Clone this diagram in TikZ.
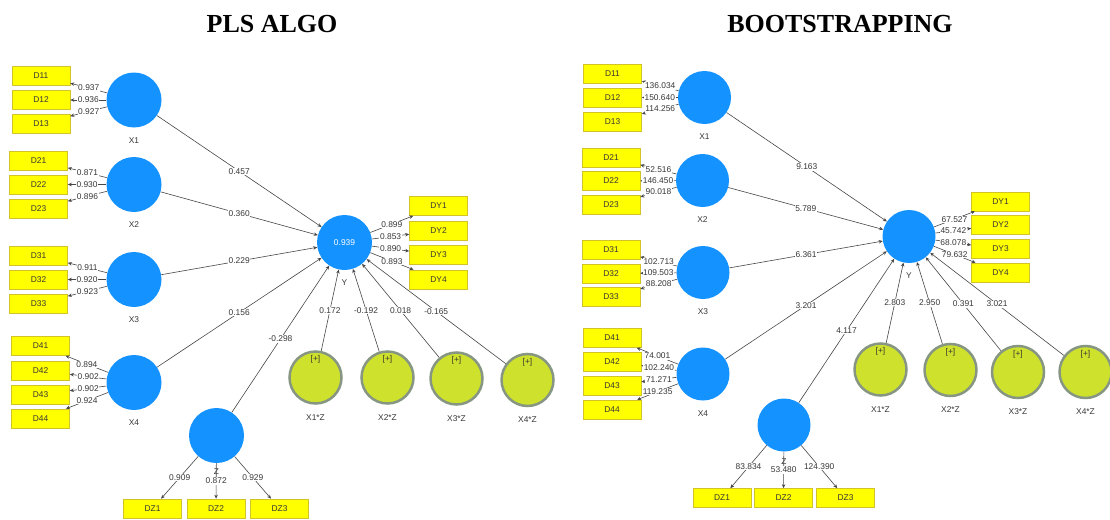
\documentclass[tikz,border=0pt]{standalone}
\usepackage{fontspec}
\setmainfont{Liberation Sans}
\newfontfamily\titre{Liberation Serif}
\usetikzlibrary{arrows.meta}
\definecolor{bleu}{RGB}{20,146,255}
\definecolor{jaune}{RGB}{255,255,0}
\definecolor{bordj}{RGB}{210,195,40}
\definecolor{vert}{RGB}{205,225,45}
\definecolor{gris}{RGB}{135,150,130}
\definecolor{trait}{RGB}{70,70,70}
\definecolor{texte}{RGB}{55,55,55}
\newcommand\petit{\fontsize{8.4}{9}\selectfont}
\tikzset{
  lv/.style={circle, fill=bleu, minimum size=55pt, inner sep=0pt, text=white, font=\petit},
  inter/.style={circle, fill=vert, draw=gris, line width=2.5pt, minimum size=52pt, inner sep=0pt,
    label={[anchor=north, yshift=-4pt, font=\petit, text=black!80!olive, inner sep=1pt]north:{[+]}}},
  ind/.style={rectangle, fill=jaune, draw=bordj, line width=0.6pt, minimum width=58pt, minimum height=19pt, inner sep=0pt, font=\petit, text=texte},
  val/.style={fill=white, inner sep=0.6pt, font=\petit, text=texte},
  nom/.style={font=\petit, text=texte, inner sep=1pt, yshift=-8.5pt},
  fl/.style={draw=trait, line width=0.6pt, -{Stealth[length=4pt,width=3.5pt]}},
  grand/.style={font=\titre\bfseries\fontsize{26}{28}\selectfont}
}
\begin{document}
\begin{tikzpicture}[x=1pt,y=-1pt]
\useasboundingbox (0,0) rectangle (1110,519);
% les titres
\node[grand] (t1) at (272,24.5) {PLS ALGO};
\node[grand] (t2) at (840,24.5) {BOOTSTRAPPING};

% PLS ALGO : variables latentes
\node[lv, label={[nom]below:X1}] (X1) at (134,100) {};
\node[lv, label={[nom]below:X2}] (X2) at (134,184.5) {};
\node[lv, label={[nom]below:X3}] (X3) at (134,279.5) {};
\node[lv, label={[nom]below:X4}] (X4) at (134,382.5) {};
\node[lv, label={[nom,yshift=4pt]below:Z}] (Z) at (216.5,435.5) {};
\node[lv, label={[nom]below:Y}] (Y) at (344.5,242.5) {0.939};
\node[inter, label={[nom]below:X1*Z}] (X1Z) at (315.5,377.5) {};
\node[inter, label={[nom]below:X2*Z}] (X2Z) at (387.5,377.5) {};
\node[inter, label={[nom]below:X3*Z}] (X3Z) at (456.5,378.5) {};
\node[inter, label={[nom]below:X4*Z}] (X4Z) at (527.5,380) {};
% indicateurs
\foreach \n/\px/\py in {D11/41/75.5, D12/41/100, D13/41/123.5,
    D21/38.5/160.5, D22/38.5/184.5, D23/38.5/208.5,
    D31/38.5/255.5, D32/38.5/279.5, D33/38.5/303.5,
    D41/40.5/346, D42/40.5/370.5, D43/40.5/394.5, D44/40.5/418.5,
    DZ1/152.5/508.5, DZ2/216/508.5, DZ3/279.5/508.5,
    DY1/438.5/206, DY2/438.5/230.5, DY3/438.5/255, DY4/438.5/279.5}
  \node[ind] (\n) at (\px,\py) {\n};
% charges externes
\foreach \a/\b/\v in {X1/D11/0.937, X1/D12/0.936, X1/D13/0.927,
    X2/D21/0.871, X2/D22/0.930, X2/D23/0.896,
    X3/D31/0.911, X3/D32/0.920, X3/D33/0.923,
    X4/D41/0.894, X4/D42/0.902, X4/D43/0.902, X4/D44/0.924,
    Z/DZ1/0.909, Z/DZ2/0.872, Z/DZ3/0.929,
    Y/DY1/0.899, Y/DY2/0.853, Y/DY3/0.890, Y/DY4/0.893}
  \draw[fl] (\a) -- node[val]{\v} (\b);
% coefficients
\foreach \a/\v in {X1/0.457, X2/0.360, X3/0.229, X4/0.156, Z/-0.298,
    X1Z/0.172, X2Z/-0.192, X3Z/0.018, X4Z/-0.165}
  \draw[fl] (\a) -- node[val]{\v} (Y);

% BOOTSTRAPPING : variables latentes
\begin{scope}[lv/.append style={minimum size=53pt}]
\node[lv, label={[nom]below:X1}] (bX1) at (704.5,97.5) {};
\node[lv, label={[nom]below:X2}] (bX2) at (702.5,180.5) {};
\node[lv, label={[nom]below:X3}] (bX3) at (703,272.5) {};
\node[lv, label={[nom]below:X4}] (bX4) at (703,374) {};
\node[lv, label={[nom,yshift=3pt]below:Z}] (bZ) at (784,425) {};
\node[lv, label={[nom]below:Y}] (bY) at (909,236.5) {};
\end{scope}
\node[inter, label={[nom]below:X1*Z}] (bX1Z) at (880.5,369.5) {};
\node[inter, label={[nom]below:X2*Z}] (bX2Z) at (950.5,370) {};
\node[inter, label={[nom]below:X3*Z}] (bX3Z) at (1018,372) {};
\node[inter, label={[nom]below:X4*Z}] (bX4Z) at (1085.5,372) {};
% indicateurs
\foreach \n/\px/\py in {D11/612.5/73.5, D12/612.5/97.5, D13/612.5/121.5,
    D21/611/157.5, D22/611/181, D23/611/204.5,
    D31/611/249.5, D32/611/273.5, D33/611/296.5,
    D41/612/338, D42/612/361.5, D43/612/385.5, D44/612/409.5,
    DZ1/722/498, DZ2/783.5/498, DZ3/845.5/498,
    DY1/1000.5/201.5, DY2/1000.5/224.5, DY3/1000.5/249, DY4/1000.5/272.5}
  \node[ind] (b\n) at (\px,\py) {\n};
% valeurs t externes
\foreach \a/\b/\v in {X1/D11/136.034, X1/D12/150.640, X1/D13/114.256,
    X2/D21/52.516, X2/D22/146.450, X2/D23/90.018,
    X3/D31/102.713, X3/D32/109.503, X3/D33/88.208,
    X4/D41/74.001, X4/D42/102.240, X4/D43/71.271, X4/D44/119.235,
    Z/DZ1/83.834, Z/DZ2/53.480, Z/DZ3/124.390,
    Y/DY1/67.527, Y/DY2/45.742, Y/DY3/68.078, Y/DY4/79.632}
  \draw[fl] (b\a) -- node[val]{\v} (b\b);
% valeurs t internes
\foreach \a/\v in {X1/9.163, X2/5.789, X3/6.361, X4/3.201, Z/4.117,
    X1Z/2.803, X2Z/2.950, X3Z/0.391, X4Z/3.021}
  \draw[fl] (b\a) -- node[val]{\v} (bY);
\end{tikzpicture}
\end{document}
